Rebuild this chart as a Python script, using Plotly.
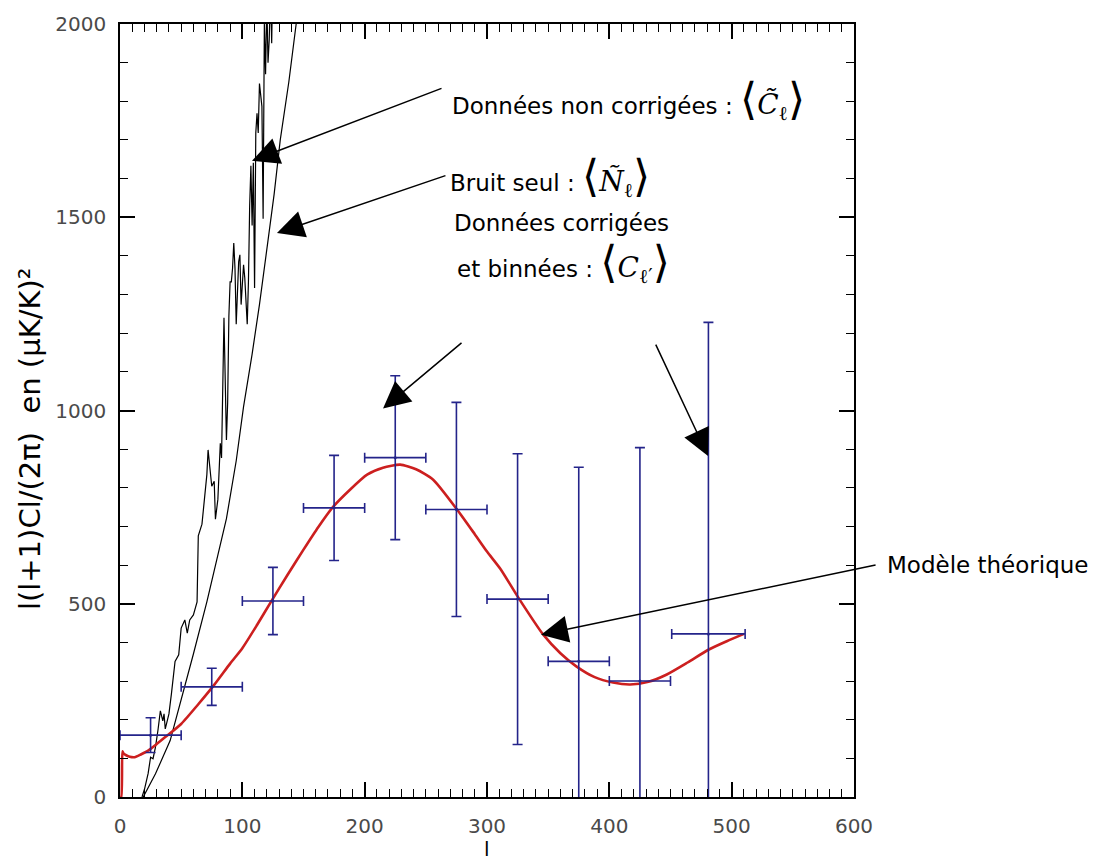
import plotly.graph_objects as go

# Binned, noise-corrected spectrum (bin centres, values, half-widths, 1-sigma errors)
bin_l = [25, 75, 125, 175, 225, 275, 325, 375, 425, 481]
bin_cl = [160, 285, 507, 748, 878, 744, 512, 351, 300, 422]
bin_dl = [25, 25, 25, 25, 25, 25, 25, 25, 25, 30]
bin_err = [45, 48, 87, 136, 212, 277, 376, 502, 604, 806]

# Theoretical model
model_l = [0, 1, 2, 3, 5, 8, 12, 17, 23, 30, 37, 50, 64, 77, 90, 100, 112, 124,
           137, 150, 162, 174, 188, 202, 215, 229, 242, 256, 275, 290, 300, 311,
           326, 346, 360, 373, 388, 403, 417, 432, 447, 464, 481, 496, 510]
model_cl = [0, 0, 118, 112, 108, 104, 103, 110, 120, 137, 155, 189, 240, 290,
            345, 385, 445, 508, 575, 640, 698, 750, 795, 834, 852, 860, 848,
            821, 746, 680, 635, 590, 514, 420, 372, 338, 310, 296, 291, 298,
            317, 348, 381, 403, 422]

# Raw (uncorrected) spectrum
raw_l = [18, 20, 23, 25, 27, 29, 31, 33, 35, 36, 37, 40, 42, 45, 48, 50, 53, 55,
         57, 60, 63, 64, 67, 69, 71, 72, 74, 75, 77, 78, 80, 81, 82, 83, 84, 85,
         87, 88, 89, 90, 91, 92, 93, 94, 95, 97, 98, 99, 101, 102, 104, 105, 106,
         107, 108, 109, 110, 111, 112, 113, 114, 116, 117, 118, 119, 120, 121,
         122, 123, 124, 125, 126, 128, 130]
raw_cl = [0, 20, 61, 103, 99, 129, 172, 223, 197, 215, 176, 215, 266, 351, 368,
          437, 458, 424, 458, 471, 505, 676, 706, 770, 834, 898, 834, 804, 817,
          719, 770, 864, 915, 877, 1018, 1240, 924, 1020, 1244, 1333, 1333, 1368,
          1433, 1368, 1223, 1385, 1403, 1274, 1377, 1343, 1223, 1334, 1530, 1633,
          1479, 1641, 1317, 1718, 1769, 1718, 1846, 1787, 1496, 2000, 1870, 2060,
          1900, 1960, 2100, 1950, 2150, 2050, 2200, 2300]

# Noise-only spectrum
noise_l = [19, 29, 41, 50, 60, 71, 79, 87, 95, 101, 108, 114, 121, 126, 131, 138, 144, 148]
noise_cl = [0, 60, 146, 249, 370, 505, 610, 720, 870, 1010, 1146, 1274, 1440,
            1560, 1700, 1850, 2000, 2100]

x_ticks = [0, 100, 200, 300, 400, 500, 600]
y_ticks = [0, 500, 1000, 1500, 2000]

NAVY = "#24248a"
RED = "#cc1f1f"
TXT = "DejaVu Sans"

fig = go.Figure()

fig.add_trace(go.Scatter(x=raw_l, y=raw_cl, mode="lines",
                         line=dict(color="black", width=1.2), hoverinfo="skip"))
fig.add_trace(go.Scatter(x=noise_l, y=noise_cl, mode="lines",
                         line=dict(color="black", width=1.2), hoverinfo="skip"))
fig.add_trace(go.Scatter(x=model_l, y=model_cl, mode="lines",
                         line=dict(color=RED, width=2.6, shape="spline", smoothing=0.6),
                         hoverinfo="skip"))
fig.add_trace(go.Scatter(
    x=bin_l, y=bin_cl, mode="markers",
    marker=dict(color=NAVY, size=3),
    error_x=dict(type="data", array=bin_dl, color=NAVY, thickness=1.6, width=5),
    error_y=dict(type="data", array=bin_err, color=NAVY, thickness=1.6, width=5),
))

axis_common = dict(
    showline=True, linecolor="black", linewidth=1.6, mirror="allticks",
    ticks="inside", ticklen=15, tickwidth=1.5, tickcolor="black",
    showgrid=False, zeroline=False,
    tickfont=dict(family=TXT, size=20, color="#4a4a4a"),
)

fig.update_xaxes(range=[0, 600], tickvals=x_ticks, ticktext=[str(v) for v in x_ticks],
                 minor=dict(dtick=10, ticks="inside", ticklen=8, tickwidth=1.3,
                            tickcolor="black", showgrid=False),
                 ticklabelstandoff=10, **axis_common)
fig.update_yaxes(range=[0, 2000], tickvals=y_ticks, ticktext=[str(v) for v in y_ticks],
                 minor=dict(dtick=100, ticks="inside", ticklen=8, tickwidth=1.3,
                            tickcolor="black", showgrid=False),
                 ticklabelstandoff=8, **axis_common)

BR = "<span style='font-size:44px;font-family:DejaVu Sans ExtraLight, DejaVu Sans'>%s</span>"
SYM = "<span style='font-family:DejaVu Serif;font-size:28px'>%s</span>"
math_C = BR % "⟨" + SYM % "<i>C̃</i><sub>ℓ</sub>" + BR % "⟩"
math_N = BR % "⟨" + SYM % "<i>Ñ</i><sub>ℓ</sub>" + BR % "⟩"
math_Cp = BR % "⟨" + SYM % "<i>C</i><sub>ℓ′</sub>" + BR % "⟩"

label_font = dict(family=TXT, size=23, color="black")
labels = [
    (269.5, 1805, "Données non corrigées : " + math_C),
    (268.1, 1608, "Bruit seul : " + math_N),
    (271.4, 1485, "Données corrigées"),
    (273.9, 1385, "et binnées : " + math_Cp),
]
for lx, ly, txt in labels:
    fig.add_annotation(x=lx, y=ly, xref="x", yref="y", text=txt, showarrow=False,
                       xanchor="left", yanchor="middle", font=label_font)
fig.add_annotation(x=1.042, y=0.30, xref="paper", yref="paper", text="Modèle théorique",
                   showarrow=False, xanchor="left", yanchor="middle", font=label_font)

# (head l, head value, tail offset px x, tail offset px y)
arrows = [
    (107.9, 1646, 191, -73),
    (128.3, 1459, 170, -58),
    (215.0, 1005, 80, -67),
    (480.7, 882, -53, -113),
    (344.2, 420, 336, -70),
]
for hx, hy, ax, ay in arrows:
    fig.add_annotation(x=hx, y=hy, xref="x", yref="y", ax=ax, ay=ay,
                       axref="pixel", ayref="pixel", text="", showarrow=True,
                       arrowhead=2, arrowsize=3.6, arrowwidth=1.5,
                       arrowcolor="black", standoff=0)

fig.add_annotation(text="l(l+1)Cl/(2π)  en (µK/K)²", xref="paper", yref="paper",
                   x=-0.1226, y=0.463, textangle=-90, showarrow=False,
                   xanchor="center", yanchor="middle",
                   font=dict(family=TXT, size=29, color="black"))
fig.add_annotation(text="l", xref="paper", yref="paper", x=0.5, y=-0.0855,
                   xanchor="center", yanchor="bottom", showarrow=False,
                   font=dict(family=TXT, size=20, color="black"))

fig.update_layout(
    width=1097, height=864, showlegend=False,
    margin=dict(l=120, r=243, t=17, b=67),
    plot_bgcolor="white", paper_bgcolor="white",
)

fig.write_html("out.html")
